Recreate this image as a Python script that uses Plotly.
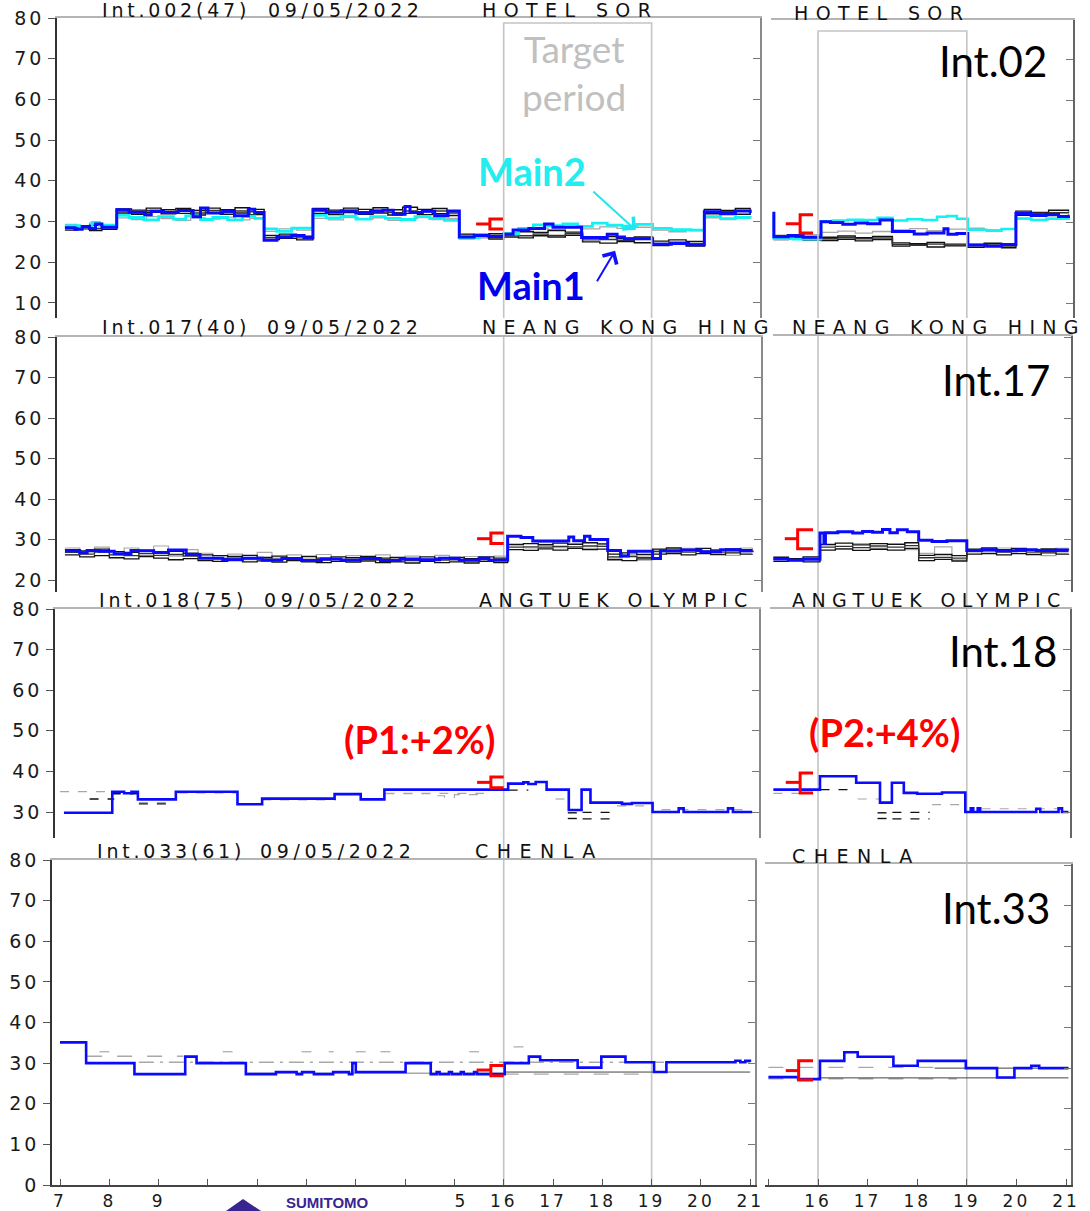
import plotly.graph_objects as go

W, H = 1090, 1211

# ======================= DATA (hour of day, value) =======================
# ---------- Int.002 (HOTEL SOR) full day ----------
i02L_main1_t = [7.10, 7.30, 7.45, 7.60, 7.72, 7.85, 8.15, 8.40, 8.72, 8.85, 9.10, 9.40, 9.70, 9.85,
                10.00, 10.30, 10.54, 10.82, 10.95, 11.14, 11.40, 11.70, 11.95, 12.13, 12.40, 12.70,
                13.00, 13.30, 13.55, 13.76, 14.00, 14.10, 14.35, 14.60, 14.87, 15.10, 15.40, 15.70,
                16.00, 16.19, 16.51, 16.83, 17.00, 17.58, 18.10, 18.30, 18.45, 19.02, 19.40, 19.75,
                20.07, 20.40, 20.70, 21.00]
i02L_main1_v = [28.5, 28.1, 28.8, 28.3, 29.4, 28.6, 32.9, 32.3, 31.7, 32.5, 32.2, 32.7, 31.2, 33.3,
                32.1, 32.5, 31.4, 33.0, 32.2, 25.4, 26.2, 26.6, 26.0, 32.9, 32.3, 32.6,
                32.1, 32.5, 32.8, 31.8, 33.7, 32.2, 32.5, 31.4, 32.6, 26.2, 26.6, 26.3,
                26.9, 27.9, 28.3, 29.4, 28.6, 26.1, 26.9, 26.2, 25.8, 24.4, 24.6, 24.3,
                32.4, 31.9, 32.6, 32.1]
i02L_main2_t = [7.10, 7.40, 7.65, 7.80, 8.15, 8.40, 8.70, 9.00, 9.30, 9.55, 9.85, 10.10, 10.40, 10.70,
                10.95, 11.14, 11.40, 11.70, 12.13, 12.40, 12.70, 13.00, 13.30, 13.60, 13.90, 14.20,
                14.50, 14.80, 15.10, 15.50, 16.00, 16.30, 16.60, 16.90, 17.20, 17.50, 17.80, 18.10,
                18.40, 18.70, 19.02, 19.40, 19.80, 20.07, 20.40, 20.70, 21.00]
i02L_main2_v = [29.0, 28.7, 29.8, 29.1, 31.5, 31.0, 30.4, 31.2, 30.6, 31.4, 30.5, 31.0, 30.4, 31.3,
                30.8, 28.2, 27.6, 28.4, 31.5, 30.9, 31.3, 30.6, 31.2, 30.8, 30.5, 31.2,
                30.7, 30.3, 26.0, 26.3, 27.0, 28.3, 29.2, 29.0, 29.4, 28.8, 29.6, 29.1,
                28.9, 29.3, 28.3, 28.0, 27.9, 31.2, 30.7, 31.0, 30.8]
i02L_runs_t = [7.10, 7.35, 7.60, 7.85, 8.15, 8.45, 8.75, 9.05, 9.35, 9.65, 9.95, 10.25, 10.55, 10.85,
               11.14, 11.45, 11.80, 12.13, 12.45, 12.75, 13.05, 13.35, 13.65, 13.95, 14.25, 14.55,
               14.85, 15.10, 15.40, 15.70, 16.00, 16.30, 16.60, 16.90, 17.25, 17.60, 17.95, 18.30,
               18.65, 19.02, 19.35, 19.70, 20.07, 20.40, 20.70, 21.00]
i02L_runA_v = [28.9, 28.6, 29.1, 28.7, 33.1, 32.8, 33.3, 32.9, 33.2, 32.7, 33.3, 32.9, 33.4, 33.0,
               26.6, 26.9, 26.4, 33.2, 32.8, 33.3, 33.0, 33.4, 32.9, 33.5, 33.0, 33.2,
               32.6, 26.9, 26.6, 27.0, 27.1, 27.5, 27.3, 27.8, 27.4, 26.0, 26.3, 25.9,
               26.2, 25.2, 25.5, 25.1, 33.0, 32.7, 33.2, 32.9]
i02L_runB_v = [27.9, 28.2, 27.8, 28.1, 32.1, 31.8, 32.3, 31.9, 32.0, 31.6, 32.2, 31.8, 32.1, 31.7,
               25.6, 25.9, 25.5, 32.0, 31.7, 32.2, 31.8, 32.1, 31.6, 32.0, 31.7, 31.9,
               31.5, 25.8, 26.1, 25.7, 26.2, 26.0, 26.5, 26.2, 26.6, 25.0, 24.7, 25.1,
               24.8, 24.1, 24.4, 24.0, 31.9, 32.2, 31.8, 32.1]
i02L_runC_v = [28.4, 28.9, 28.3, 28.8, 32.6, 32.2, 32.7, 32.4, 32.6, 32.1, 32.7, 32.3, 32.6, 32.4,
               26.1, 26.4, 26.0, 32.6, 32.3, 32.7, 32.4, 32.8, 32.2, 32.6, 32.4, 32.6,
               32.1, 26.3, 26.4, 26.2, 26.7, 26.5, 26.9, 26.6, 27.0, 25.5, 25.6, 25.4,
               25.7, 24.6, 24.9, 24.5, 32.5, 32.4, 32.6, 32.4]
i02L_runG_v = [29.3, 29.0, 29.6, 29.2, 30.9, 30.5, 31.2, 30.7, 30.3, 30.9, 30.6, 31.1, 30.4, 30.8,
               27.6, 28.2, 27.9, 30.8, 30.4, 31.0, 30.6, 30.9, 30.3, 30.7, 31.0, 30.5,
               30.8, 26.7, 27.0, 26.6, 27.3, 27.9, 28.4, 28.0, 28.6, 28.2, 28.7, 28.3,
               28.6, 27.9, 27.5, 27.8, 30.9, 30.5, 31.0, 30.7]

# ---------- Int.02 (HOTEL SOR) afternoon, second case ----------
i02R_main1_t = [15.08, 15.11, 15.40, 15.70, 16.06, 16.25, 16.50, 16.75, 17.00, 17.25, 17.50, 17.94,
                18.20, 18.54, 18.62, 18.80, 19.02, 19.40, 19.70, 19.99, 20.30, 20.60, 20.85, 21.05]
i02R_main1_v = [32.3, 26.5, 26.8, 26.4, 30.2, 30.0, 29.6, 29.9, 29.7, 30.6, 27.8, 27.2,
                27.4, 28.5, 27.1, 27.3, 24.5, 24.2, 24.6, 32.2, 31.7, 32.0, 31.5, 31.8]
i02R_main2_t = [15.08, 15.11, 15.50, 16.06, 16.30, 16.60, 16.90, 17.20, 17.50, 17.80, 18.10, 18.40,
                18.60, 18.80, 19.02, 19.40, 19.70, 19.99, 20.30, 20.60, 21.05]
i02R_main2_v = [31.5, 26.0, 25.9, 30.3, 30.5, 30.7, 30.6, 31.2, 30.5, 30.8, 30.6, 31.4,
                31.6, 30.9, 28.2, 28.0, 28.4, 31.0, 30.6, 30.9, 30.6]
i02R_runs_t = [15.10, 15.40, 15.70, 16.06, 16.40, 16.75, 17.10, 17.50, 17.85, 18.20, 18.55, 19.02,
               19.35, 19.70, 19.99, 20.30, 20.65, 21.05]
i02R_runA_v = [26.7, 26.9, 26.5, 26.4, 26.7, 26.3, 26.6, 25.0, 24.8, 25.1, 24.7, 24.6,
               24.9, 24.5, 32.8, 32.5, 33.0, 32.7]
i02R_runB_v = [25.8, 26.0, 25.7, 25.6, 25.9, 25.5, 25.8, 24.2, 24.5, 24.0, 24.3, 23.9,
               24.2, 23.8, 31.8, 32.1, 31.7, 32.0]
i02R_runC_v = [26.2, 26.4, 26.1, 26.0, 26.3, 26.0, 26.2, 24.6, 24.4, 24.7, 24.4, 24.3,
               24.5, 24.2, 32.3, 32.3, 32.4, 32.3]
i02R_runG_v = [26.9, 26.6, 27.0, 27.6, 27.9, 27.4, 27.8, 28.2, 28.5, 28.0, 28.4, 28.6,
               28.2, 28.5, 30.9, 30.6, 31.0, 30.7]

# ---------- Int.017 (NEANG KONG HING) ----------
i17L_main1_t = [7.10, 7.40, 7.55, 7.80, 8.10, 8.44, 8.58, 8.90, 9.20, 9.56, 9.84, 10.30, 10.70,
                11.10, 11.50, 11.90, 12.30, 12.70, 13.10, 13.50, 13.90, 14.30, 14.70, 15.10, 15.50,
                15.70, 16.08, 16.35, 16.59, 17.32, 17.42, 17.64, 17.75, 18.11, 18.37, 18.53, 19.02,
                19.18, 19.60, 20.00, 20.40, 20.80, 21.04]
i17L_main1_v = [27.2, 26.7, 27.3, 27.1, 26.5, 27.3, 27.2, 26.8, 27.4, 26.3, 25.4, 25.0, 25.4,
                24.9, 25.3, 24.8, 25.2, 24.9, 25.3, 24.8, 25.2, 25.0, 25.4, 24.9, 25.4,
                24.9, 30.8, 30.5, 29.6, 30.6, 29.7, 30.8, 30.0, 27.3, 25.9, 27.1, 25.3,
                27.2, 27.4, 27.0, 27.5, 27.2, 27.3]
i17L_runs_t = [7.10, 7.40, 7.70, 8.00, 8.30, 8.60, 8.90, 9.20, 9.50, 9.80, 10.10, 10.40, 10.70,
               11.00, 11.30, 11.60, 11.90, 12.20, 12.50, 12.80, 13.10, 13.40, 13.70, 14.00, 14.30,
               14.60, 14.90, 15.20, 15.50, 15.80, 16.08, 16.40, 16.70, 17.00, 17.30, 17.60, 17.90,
               18.11, 18.40, 18.70, 19.02, 19.30, 19.60, 19.90, 20.20, 20.50, 20.80, 21.04]
i17L_runA_v = [27.5, 27.2, 27.6, 27.0, 26.8, 27.3, 26.9, 27.1, 26.6, 26.2, 26.0, 25.8, 26.1,
               25.6, 25.9, 25.5, 25.8, 25.4, 25.7, 25.5, 25.8, 25.4, 25.6, 25.3, 25.7,
               25.4, 25.6, 25.3, 25.7, 25.4, 28.8, 29.0, 28.7, 29.1, 28.8, 29.2, 28.9,
               26.4, 26.7, 26.3, 27.6, 27.9, 27.5, 27.8, 27.4, 27.7, 27.5, 27.6]
i17L_runB_v = [26.2, 25.7, 26.0, 25.5, 25.2, 25.8, 25.4, 25.0, 25.3, 24.8, 24.6, 24.9, 24.5,
               24.7, 24.4, 24.8, 24.5, 24.3, 24.6, 24.4, 24.7, 24.3, 24.5, 24.2, 24.6,
               24.3, 24.5, 24.2, 24.6, 24.3, 27.5, 27.3, 27.7, 27.4, 27.8, 27.5, 27.6,
               25.0, 24.8, 25.2, 26.4, 26.6, 26.2, 26.5, 26.3, 26.7, 26.4, 26.5]
i17L_runC_v = [26.8, 26.4, 26.9, 26.2, 26.0, 26.5, 26.1, 26.3, 25.9, 25.5, 25.3, 25.4, 25.3,
               25.2, 25.1, 25.2, 25.1, 24.9, 25.1, 24.9, 25.2, 24.9, 25.0, 24.8, 25.1,
               24.9, 25.0, 24.8, 25.1, 24.9, 28.1, 28.2, 28.1, 28.3, 28.2, 28.4, 28.3,
               25.7, 25.8, 25.6, 27.0, 27.2, 26.9, 27.1, 26.9, 27.2, 27.0, 27.0]
i17L_runG_v = [27.9, 26.9, 28.1, 26.4, 27.9, 26.0, 28.4, 25.9, 27.5, 26.6, 25.5, 26.4, 25.0,
               26.8, 25.4, 26.2, 25.0, 26.3, 25.1, 26.0, 24.6, 26.2, 25.3, 25.9, 24.8,
               26.1, 25.2, 25.8, 24.9, 25.9, 28.6, 27.9, 29.2, 28.0, 29.0, 27.8, 28.7,
               25.4, 26.2, 24.9, 27.3, 26.4, 27.8, 26.6, 27.5, 26.1, 27.9, 27.2]

i17R_main1_t = [15.10, 15.40, 15.70, 16.04, 16.12, 16.15, 16.40, 16.70, 16.90, 17.10, 17.30, 17.45,
                17.60, 17.80, 18.03, 18.30, 18.60, 19.00, 19.30, 19.60, 20.00, 20.40, 20.80, 21.05]
i17R_main1_v = [25.2, 24.9, 25.1, 31.6, 29.0, 31.7, 31.9, 31.6, 32.0, 31.8, 32.5, 31.7,
                32.4, 31.9, 29.8, 29.5, 29.7, 27.3, 27.5, 27.2, 27.5, 27.3, 27.4, 27.4]
i17R_runs_t = [15.10, 15.40, 15.70, 16.04, 16.35, 16.70, 17.05, 17.40, 17.75, 18.03, 18.35, 18.70,
               19.00, 19.30, 19.60, 19.90, 20.20, 20.50, 20.80, 21.05]
i17R_runA_v = [25.6, 25.3, 25.7, 28.8, 29.1, 28.7, 29.0, 28.8, 29.2, 26.1, 26.3, 26.0,
               27.6, 27.9, 27.5, 27.8, 27.4, 27.7, 27.5, 27.6]
i17R_runB_v = [24.6, 24.9, 24.5, 27.4, 27.7, 27.3, 27.6, 27.4, 27.8, 24.8, 25.1, 24.7,
               26.4, 26.6, 26.2, 26.5, 26.3, 26.7, 26.4, 26.5]
i17R_runC_v = [25.1, 25.0, 25.2, 28.1, 28.3, 28.0, 28.4, 28.1, 28.5, 25.5, 25.6, 25.4,
               27.0, 27.2, 26.9, 27.1, 26.9, 27.2, 27.0, 27.0]
i17R_runG_v = [25.8, 24.7, 25.5, 28.6, 27.6, 29.0, 27.9, 28.9, 27.5, 26.6, 28.2, 25.0,
               27.3, 26.4, 27.9, 26.6, 27.6, 26.0, 27.8, 27.2]

# ---------- Int.018 (ANGTUEK OLYMPIC) ----------
i18L_main1_t = [7.08, 8.06, 8.30, 8.45, 8.58, 9.35, 10.60, 11.10, 12.57, 13.10, 13.58, 16.09, 16.40,
                16.50, 16.65, 16.87, 17.32, 17.58, 17.76, 18.40, 18.60, 19.02, 19.55, 19.65, 20.55,
                20.65, 21.04]
i18L_main1_v = [29.8, 35.0, 34.6, 35.0, 33.1, 35.0, 31.9, 33.3, 34.4, 33.1, 35.5, 37.0, 37.3,
                36.9, 37.4, 35.5, 30.5, 35.5, 32.3, 32.0, 32.2, 30.0, 30.9, 30.0, 30.9,
                30.0, 30.0]
i18L_gray_t = [7.00, 8.50, None, 8.60, 9.30, None, 9.40, 10.60, None, 11.10, 12.60, None,
               13.60, 15.60, None, 17.05, 17.40, None, 18.30, 19.00, None, 19.20, 21.00]
i18L_gray_v = [35.0, 35.0, None, 32.3, 32.3, None, 34.7, 34.7, None, 33.0, 33.0, None,
               34.6, 34.6, None, 33.2, 33.2, None, 31.5, 31.5, None, 30.6, 30.6]
i18L_gray2_t = [13.60, 14.50, 14.80, 15.00, 15.60]
i18L_gray2_v = [34.5, 34.0, 33.6, 34.3, 34.3]
i18L_blk_t = [7.60, 8.10, None, 8.05, 8.60, None, 8.60, 9.30, None, 16.10, 16.50, None,
              17.30, 17.50, None, 17.30, 17.50, None, 17.60, 18.30, None, 17.60, 18.30]
i18L_blk_v = [33.2, 33.2, None, 34.5, 34.5, None, 32.0, 32.0, None, 35.4, 35.4, None,
              29.8, 29.8, None, 28.4, 28.4, None, 29.9, 29.9, None, 28.3, 28.3]

i18R_main1_t = [15.10, 16.04, 16.77, 17.25, 17.49, 17.73, 18.00, 18.50, 18.97, 19.08, 19.13, 19.22,
                19.27, 20.40, 20.48, 20.85, 20.92, 21.05]
i18R_main1_v = [35.5, 38.8, 37.2, 32.3, 37.2, 34.7, 34.5, 34.8, 30.0, 30.9, 30.0, 30.9,
                30.0, 30.8, 30.0, 30.9, 30.0, 30.0]
i18R_gray_t = [15.10, 15.70, None, 16.80, 17.25, None, 18.30, 19.00, None, 19.30, 21.00]
i18R_gray_v = [34.6, 34.6, None, 33.2, 33.2, None, 31.8, 31.8, None, 30.8, 30.8]
i18R_blk_t = [16.05, 16.60, None, 17.20, 17.50, None, 17.20, 17.50, None, 17.50, 18.25, None,
              17.50, 18.25]
i18R_blk_v = [35.5, 35.5, None, 29.8, 29.8, None, 28.4, 28.4, None, 29.9, 29.9, None,
              28.3, 28.3]

# ---------- Int.033 (CHENLA) ----------
i33L_main1_t = [7.00, 7.53, 8.51, 9.54, 9.77, 10.77, 11.38, 11.80, 11.91, 12.15, 12.54, 12.86,
                12.93, 13.00, 14.01, 14.52, 14.64, 14.70, 14.89, 14.95, 15.13, 15.19, 15.40, 15.46,
                16.02, 16.51, 16.74, 17.50, 17.98, 18.47, 19.05, 19.30, 20.70, 20.80, 20.90, 21.02]
i33L_main1_v = [35.1, 30.0, 27.3, 31.6, 30.0, 27.3, 27.8, 27.3, 27.8, 27.3, 27.8, 27.3,
                30.0, 27.8, 30.0, 27.3, 27.8, 27.3, 27.8, 27.3, 27.8, 27.3, 27.8, 27.3,
                30.0, 31.6, 30.7, 28.9, 31.6, 30.2, 27.8, 30.2, 30.6, 30.2, 30.6, 30.6]
i33L_g1_t = [7.55, 9.50]
i33L_g1_v = [31.7, 31.7]
i33L_g2_t = [8.60, 21.00]
i33L_g2_v = [30.2, 30.2]
i33L_g3_t = [10.77, 16.00]
i33L_g3_v = [27.5, 27.5]
i33L_g4_t = [16.00, 18.90]
i33L_g4_v = [27.3, 27.3]
i33L_k_t = [16.02, 21.00]
i33L_k_v = [27.8, 27.8]
i33L_sp_t = [7.80, 8.00, None, 10.30, 10.50, None, 11.90, 12.10, None, 12.45, 12.55, None,
             13.00, 13.20, None, 13.50, 13.70, None, 15.30, 15.50, None, 16.20, 16.40]
i33L_sp_v = [32.8, 32.8, None, 32.8, 32.8, None, 32.8, 32.8, None, 32.8, 32.8, None,
             32.8, 32.8, None, 32.8, 32.8, None, 32.8, 32.8, None, 34.0, 34.0]

i33R_main1_t = [15.00, 15.60, 16.04, 16.53, 16.80, 17.52, 18.01, 18.98, 19.61, 19.96, 20.30,
                20.46, 21.05]
i33R_main1_v = [27.8, 27.3, 31.8, 33.9, 32.8, 30.6, 31.8, 30.0, 27.7, 30.0, 30.6,
                30.0, 30.0]
i33R_g1_t = [15.00, 18.35]
i33R_g1_v = [30.2, 30.2]
i33R_k1_t = [18.35, 21.05]
i33R_k1_v = [30.0, 30.0]
i33R_g2_t = [15.00, 18.80]
i33R_g2_v = [27.4, 27.4]
i33R_k2_t = [16.00, 21.05]
i33R_k2_v = [27.6, 27.6]

# ---------- target period & tolerance brackets ([start, corner, end] h ; [low, mid, high]) ----------
target_period = [16.0, 19.0]
br_i02L = ([15.44, 15.72, 15.99], [28.2, 29.4, 30.6])
br_i02R = ([15.35, 15.64, 15.90], [27.4, 29.7, 31.9])
br_i17L = ([15.46, 15.74, 16.00], [29.0, 30.2, 31.6])
br_i17R = ([15.33, 15.59, 15.90], [27.7, 30.2, 32.4])
br_i18L = ([15.46, 15.74, 16.00], [36.0, 37.3, 38.6])
br_i18R = ([15.35, 15.64, 15.90], [34.7, 37.3, 39.6])
br_i33L = ([15.45, 15.74, 16.00], [26.9, 28.3, 29.4])
br_i33R = ([15.35, 15.61, 15.90], [27.1, 29.4, 31.8])

y_ticks = [0, 10, 20, 30, 40, 50, 60, 70, 80]
hours_left = list(range(7, 22))
hours_right = list(range(15, 22))
hours_hidden = [10, 11, 12, 13, 14]   # labels hidden behind the logo in the original

# ======================= FIGURE =======================
BLUE = '#0a0aff'
CYAN = '#12f2f2'
GRAY = '#a8a8a8'
BLACK = '#111111'
RED = '#ff0000'

fig = go.Figure()


def ax(idx):
    return ('x' if idx == 1 else f'x{idx}'), ('y' if idx == 1 else f'y{idx}')


def add(t, v, idx, color, width, dash='solid', shape='hv', opacity=1.0):
    n = min(len(t), len(v))
    xa, ya = ax(idx)
    fig.add_trace(go.Scatter(x=t[:n], y=v[:n], mode='lines', xaxis=xa, yaxis=ya,
                             line=dict(color=color, width=width, dash=dash, shape=shape),
                             opacity=opacity, hoverinfo='skip', showlegend=False))


def bracket(br, idx):
    (a, b, c), (lo, mid, hi) = br
    add([a, b, None, c, b, b, c], [mid, mid, None, hi, hi, lo, lo], idx, RED, 3, shape='linear')


# Row 1
add(i02L_runs_t, i02L_runG_v, 1, GRAY, 1.3)
add(i02L_runs_t, i02L_runB_v, 1, BLACK, 1.4)
add(i02L_runs_t, i02L_runA_v, 1, BLACK, 1.4)
add(i02L_runs_t, i02L_runC_v, 1, '#333333', 1.4)
add(i02L_main2_t, i02L_main2_v, 1, CYAN, 2.8)
add(i02L_main1_t, i02L_main1_v, 1, BLUE, 3)
bracket(br_i02L, 1)
add(i02R_runs_t, i02R_runG_v, 2, GRAY, 1.3)
add(i02R_runs_t, i02R_runB_v, 2, BLACK, 1.4)
add(i02R_runs_t, i02R_runA_v, 2, BLACK, 1.4)
add(i02R_runs_t, i02R_runC_v, 2, '#333333', 1.4)
add(i02R_main2_t, i02R_main2_v, 2, CYAN, 2.5)
add(i02R_main1_t, i02R_main1_v, 2, BLUE, 3)
bracket(br_i02R, 2)
# Row 2
add(i17L_runs_t, i17L_runG_v, 3, GRAY, 1.2)
add(i17L_runs_t, i17L_runB_v, 3, BLACK, 1.3)
add(i17L_runs_t, i17L_runA_v, 3, BLACK, 1.3)
add(i17L_runs_t, i17L_runC_v, 3, '#333333', 1.3)
add(i17L_main1_t, i17L_main1_v, 3, BLUE, 3)
bracket(br_i17L, 3)
add(i17R_runs_t, i17R_runG_v, 4, GRAY, 1.2)
add(i17R_runs_t, i17R_runB_v, 4, BLACK, 1.3)
add(i17R_runs_t, i17R_runA_v, 4, BLACK, 1.3)
add(i17R_runs_t, i17R_runC_v, 4, '#333333', 1.3)
add(i17R_main1_t, i17R_main1_v, 4, BLUE, 3)
bracket(br_i17R, 4)
# Row 3
add(i18L_gray_t, i18L_gray_v, 5, GRAY, 1.2, dash='dash', shape='linear')
add(i18L_gray2_t, i18L_gray2_v, 5, GRAY, 1.2, dash='dash')
add(i18L_blk_t, i18L_blk_v, 5, BLACK, 1.4, dash='dash', shape='linear')
add(i18L_main1_t, i18L_main1_v, 5, BLUE, 2.6)
bracket(br_i18L, 5)
add(i18R_gray_t, i18R_gray_v, 6, GRAY, 1.2, dash='dash', shape='linear')
add(i18R_blk_t, i18R_blk_v, 6, BLACK, 1.4, dash='dash', shape='linear')
add(i18R_main1_t, i18R_main1_v, 6, BLUE, 2.6)
bracket(br_i18R, 6)
# Row 4
add(i33L_g1_t, i33L_g1_v, 7, GRAY, 1.4, dash='longdash', shape='linear')
add(i33L_g2_t, i33L_g2_v, 7, GRAY, 1.4, dash='longdashdot', shape='linear')
add(i33L_g3_t, i33L_g3_v, 7, GRAY, 1.4, shape='linear')
add(i33L_g4_t, i33L_g4_v, 7, GRAY, 1.4, dash='longdash', shape='linear')
add(i33L_k_t, i33L_k_v, 7, '#444444', 1.0, shape='linear')
add(i33L_sp_t, i33L_sp_v, 7, GRAY, 1.2, shape='linear')
add(i33L_main1_t, i33L_main1_v, 7, BLUE, 2.6)
bracket(br_i33L, 7)
add(i33R_g1_t, i33R_g1_v, 8, GRAY, 1.4, dash='longdash', shape='linear')
add(i33R_k1_t, i33R_k1_v, 8, '#444444', 1.0, shape='linear')
add(i33R_g2_t, i33R_g2_v, 8, GRAY, 1.4, dash='longdash', shape='linear')
add(i33R_k2_t, i33R_k2_v, 8, '#444444', 1.0, shape='linear')
add(i33R_main1_t, i33R_main1_v, 8, BLUE, 2.6)
bracket(br_i33R, 8)


def fx(px):
    return px / W


def fy(py):
    return 1 - py / H


def sp(txt, ls):
    return f'<span style="letter-spacing:{ls}px">{txt}</span>'


def anchor_trace(xa, ya):
    # empty trace so that an overlay axis pair gets its own subplot drawn
    fig.add_trace(go.Scatter(x=[None], y=[None], mode='lines', xaxis=xa, yaxis=ya,
                             hoverinfo='skip', showlegend=False))


# panel geometry in pixels: idx, x0, x1, side, y0(top), y1(bottom), value at top, px per unit
geo = [
    (1, 57, 760, 'L', 18, 318, 80.0, 4.071),
    (2, 771, 1073, 'R', 20, 318, 79.75, 4.071),
    (3, 57, 761, 'L', 337, 592, 80.0, 4.05),
    (4, 773, 1071, 'R', 336, 592, 80.25, 4.05),
    (5, 55, 759, 'L', 609, 838, 80.0, 4.06),
    (6, 770, 1070, 'R', 609, 838, 80.0, 4.06),
    (7, 52, 755, 'L', 860, 1185, 80.0, 4.0625),
    (8, 765, 1071, 'R', 864, 1185, 80.25, 4.0625),
]
TICKFONT = dict(family='DejaVu Sans', size=19, color='#1a1a1a')
XTICKFONT = dict(family='DejaVu Sans', size=17, color='#1a1a1a')
TLS = 3
layout = {}
for idx, x0, x1, side, y0, y1, ytop, ppu in geo:
    if side == 'L':
        conv = lambda p: 7 + (p - 60) / 49.3
    else:
        conv = lambda p: 16 + (p - 818) / 49.6
    xr = [conv(x0), conv(x1)]
    yr = [ytop - (y1 - y0) / ppu, ytop]
    xd = [fx(x0), fx(x1)]
    yd = [fy(y1), fy(y0)]
    xa, ya = ax(idx)
    xk = 'xaxis' if idx == 1 else f'xaxis{idx}'
    yk = 'yaxis' if idx == 1 else f'yaxis{idx}'
    vals = [v for v in y_ticks if yr[0] - 0.01 <= v <= yr[1] + 0.01]
    layout[xk] = dict(domain=xd, range=xr, anchor=ya, side='top', showline=True,
                      linecolor='#b4b4b4', linewidth=1.5, ticks='', showticklabels=False,
                      showgrid=False, zeroline=False, fixedrange=True, automargin=False)
    if side == 'L':
        layout[yk] = dict(domain=yd, range=yr, anchor=xa, side='left', showline=True,
                          linecolor='#333333', linewidth=1.5, ticks='outside', ticklen=7,
                          tickcolor='#555555', tickvals=vals,
                          ticktext=[sp(str(v), TLS) for v in vals], tickfont=TICKFONT,
                          showgrid=False, zeroline=False, fixedrange=True, automargin=False)
        n = 8 + (idx + 1) // 2
        layout[f'yaxis{n}'] = dict(overlaying=ya, anchor=xa, side='right', range=yr,
                                   showline=True, linecolor='#8a8a8a', linewidth=1.5,
                                   ticks='inside', ticklen=7, tickcolor='#777777', tickvals=vals,
                                   showticklabels=False, showgrid=False, zeroline=False,
                                   fixedrange=True, automargin=False)
        anchor_trace(xa, f'y{n}')
    else:
        layout[yk] = dict(domain=yd, range=yr, anchor=xa, side='right', showline=True,
                          linecolor='#666666', linewidth=1.5, ticks='inside', ticklen=7,
                          tickcolor='#777777', tickvals=vals, showticklabels=False,
                          showgrid=False, zeroline=False, fixedrange=True, automargin=False)
    if idx in (7, 8):
        hrs = hours_left if idx == 7 else hours_right
        txt = ['' if h in hours_hidden else sp(str(h), TLS) for h in hrs]
        if idx == 8:
            txt[0] = ''
        layout[f'xaxis{idx + 6}'] = dict(overlaying=xa, anchor=ya, side='bottom', range=xr,
                                         showline=True, linecolor='#444444', linewidth=1.5,
                                         ticks='inside', ticklen=6, tickcolor='#555555',
                                         tickvals=hrs, ticktext=txt, tickfont=XTICKFONT,
                                         showgrid=False, zeroline=False, fixedrange=True,
                                         automargin=False)
        anchor_trace(f'x{idx + 6}', ya)

fig.update_layout(**layout)

# ---------- shapes: target period box / lines, mask, logo ----------
t0, t1 = target_period
LC = '#c4c4c4'
shapes = [
    dict(type='path', xref='x', yref='paper', line=dict(color=LC, width=1.6),
         path=f'M {t0},{fy(318)} L {t0},{fy(23)} L {t1},{fy(23)} L {t1},{fy(318)}'),
    dict(type='path', xref='x2', yref='paper', line=dict(color=LC, width=1.6),
         path=f'M {t0},{fy(318)} L {t0},{fy(31)} L {t1},{fy(31)} L {t1},{fy(318)}'),
]
for t in target_period:
    shapes.append(dict(type='line', xref='x3', yref='paper', x0=t, x1=t, y0=fy(1185), y1=fy(335),
                       line=dict(color=LC, width=1.6), layer='below'))
    shapes.append(dict(type='line', xref='x4', yref='paper', x0=t, x1=t, y0=fy(1185), y1=fy(335),
                       line=dict(color=LC, width=1.6), layer='below'))
# white patch of the overlaid logo that hides the first digit of "15"
shapes.append(dict(type='rect', xref='paper', yref='paper', x0=fx(425), x1=fx(450.5), y0=0,
                   y1=fy(1190), fillcolor='white', line=dict(width=0), layer='above'))
shapes.append(dict(type='path', xref='paper', yref='paper', fillcolor='#3a2590',
                   line=dict(width=0), layer='above',
                   path=f'M {fx(226)},{fy(1211)} L {fx(243)},{fy(1199)} L {fx(261)},{fy(1211)} Z'))
fig.update_layout(shapes=shapes)

# ---------- annotations ----------
ann = []
TF = 19
titles = [
    ('Int.002(47)', 100, 10, 3.8), ('09/05/2022', 266, 10, 4.6), ('HOTEL SOR', 480, 10, 7.4),
    ('HOTEL SOR', 792, 13, 7.4),
    ('Int.017(40)', 100, 327, 3.8), ('09/05/2022', 265, 327, 4.6),
    ('NEANG KONG HING', 480, 327, 7.3), ('NEANG KONG HING', 790, 327, 7.3),
    ('Int.018(75)', 97, 600, 3.8), ('09/05/2022', 262, 600, 4.6),
    ('ANGTUEK OLYMPIC', 477, 600, 6.4), ('ANGTUEK OLYMPIC', 790, 600, 6.4),
    ('Int.033(61)', 95, 851, 3.8), ('09/05/2022', 258, 851, 4.6), ('CHENLA', 473, 851, 8.5),
    ('CHENLA', 790, 856, 8.5),
]
for txt, px, py, ls in titles:
    ann.append(dict(text=sp(txt, ls), x=fx(px), y=fy(py), xref='paper', yref='paper',
                    xanchor='left', yanchor='middle', showarrow=False,
                    font=dict(family='DejaVu Sans', size=TF, color='#111111')))

LBL = 'Lato'
for txt, px, py in [('Int.02', 937, 61), ('Int.17', 940, 380), ('Int.18', 947, 651),
                    ('Int.33', 940, 908)]:
    ann.append(dict(text=txt, x=fx(px), y=fy(py), xref='paper', yref='paper', xanchor='left',
                    yanchor='middle', showarrow=False,
                    font=dict(family=LBL, size=42, color='#000000')))
ann.append(dict(text='Target<br>period', x=fx(574), y=fy(72), xref='paper', yref='paper',
                xanchor='center', yanchor='middle', showarrow=False, align='center',
                font=dict(family=LBL, size=37, color='#c0c0c0')))
ann.append(dict(text='<b>Main2</b>', x=fx(476), y=fy(171), xref='paper', yref='paper',
                xanchor='left', yanchor='middle', showarrow=False,
                font=dict(family=LBL, size=38, color='#22eef0')))
ann.append(dict(text='<b>Main1</b>', x=fx(475), y=fy(285), xref='paper', yref='paper',
                xanchor='left', yanchor='middle', showarrow=False,
                font=dict(family=LBL, size=38, color='#0000ee')))
ann.append(dict(text='<b>(P1:+2%)</b>', x=fx(342), y=fy(739), xref='paper', yref='paper',
                xanchor='left', yanchor='middle', showarrow=False,
                font=dict(family=LBL, size=38, color=RED)))
ann.append(dict(text='<b>(P2:+4%)</b>', x=fx(807), y=fy(732), xref='paper', yref='paper',
                xanchor='left', yanchor='middle', showarrow=False,
                font=dict(family=LBL, size=38, color=RED)))
# arrows pointing to the Main2 / Main1 lines
ann.append(dict(text='', x=18.68, y=27.9, xref='x', yref='y', ax=-44, ay=-40, showarrow=True,
                arrowhead=4, arrowsize=1.6, arrowwidth=2, arrowcolor='#22e6ee'))
ann.append(dict(text='', x=18.26, y=22.8, xref='x', yref='y', ax=-19, ay=32, showarrow=True,
                arrowhead=4, arrowsize=1.6, arrowwidth=2, arrowcolor='#1010ff'))
ann.append(dict(text='<b>SUMITOMO</b>', x=fx(284), y=fy(1202), xref='paper', yref='paper',
                xanchor='left', yanchor='middle', showarrow=False,
                font=dict(family='Liberation Sans', size=15, color='#3a2590')))
fig.update_layout(annotations=ann)

fig.update_layout(width=W, height=H, margin=dict(l=0, r=0, t=0, b=0, pad=0, autoexpand=False),
                  paper_bgcolor='white', plot_bgcolor='white', showlegend=False)

fig.write_html('out.html', config={'displayModeBar': False},
               post_script="document.body.style.margin='0px';document.body.style.padding='0px';")
